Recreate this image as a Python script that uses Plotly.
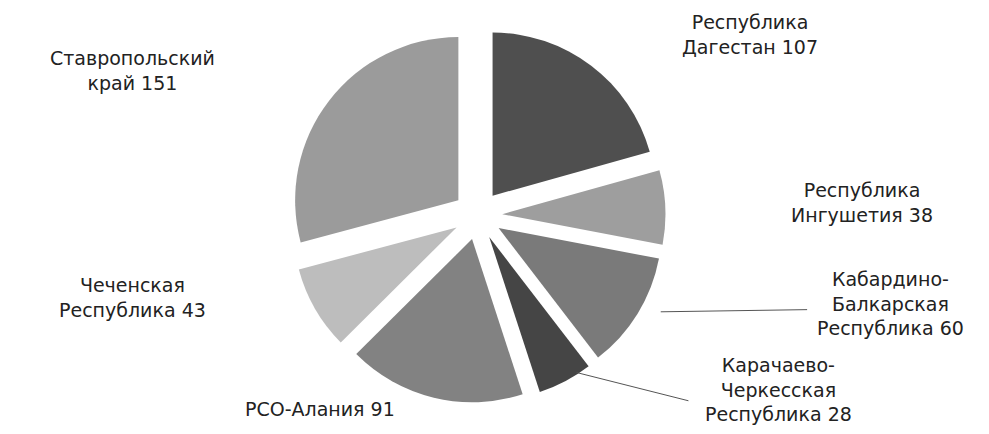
import plotly.graph_objects as go

# ---- data ----
categories = [
    "Республика Дагестан",
    "Республика Ингушетия",
    "Кабардино-Балкарская Республика",
    "Карачаево-Черкесская Республика",
    "РСО-Алания",
    "Чеченская Республика",
    "Ставропольский край",
]
label_lines = [
    "Республика<br>Дагестан",
    "Республика<br>Ингушетия",
    "Кабардино-<br>Балкарская<br>Республика",
    "Карачаево-<br>Черкесская<br>Республика",
    "РСО-Алания",
    "Чеченская<br>Республика",
    "Ставропольский<br>край",
]
values = [107, 38, 60, 28, 91, 43, 151]
colors = ["#4f4f4f", "#9e9e9e", "#7a7a7a", "#454545", "#828282", "#bdbdbd", "#9b9b9b"]

# label placement (paper coords) - layout only
label_pos = [
    (0.750, 0.940),
    (0.864, 0.551),
    (0.892, 0.318),
    (0.779, 0.120),
    (0.315, 0.076),
    (0.126, 0.334),
    (0.126, 0.857),
]

fig = go.Figure()
fig.add_trace(go.Pie(
    labels=categories,
    values=values,
    sort=False,
    direction="clockwise",
    rotation=0,
    pull=[0.15] * len(values),
    marker=dict(colors=colors, line=dict(width=0)),
    textinfo="none",
    showlegend=False,
    domain=dict(x=[0.187, 0.763], y=[0.09, 0.955]),
))

annotations = []
for name, v, (px, py) in zip(label_lines, values, label_pos):
    annotations.append(dict(
        x=px, y=py, xref="paper", yref="paper",
        text=f"{name} {v}", showarrow=False,
        xanchor="center", yanchor="middle", align="center",
        font=dict(family="DejaVu Sans", size=19, color="#222222"),
    ))

shapes = [
    dict(type="line", xref="paper", yref="paper",
         x0=0.66, y0=0.30, x1=0.808, y1=0.305,
         line=dict(color="#555555", width=1)),
    dict(type="line", xref="paper", yref="paper",
         x0=0.575, y0=0.16, x1=0.688, y1=0.095,
         line=dict(color="#555555", width=1)),
]

fig.update_layout(
    width=989, height=434,
    margin=dict(l=0, r=0, t=0, b=0),
    paper_bgcolor="white", plot_bgcolor="white",
    annotations=annotations,
    shapes=shapes,
)

fig.write_html("out.html")
